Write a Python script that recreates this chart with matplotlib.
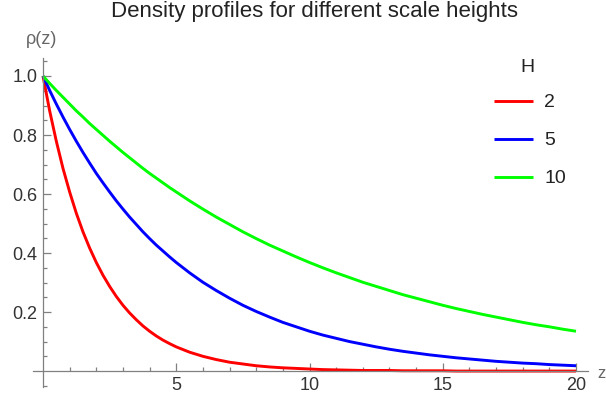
import matplotlib.pyplot as plt
import numpy as np

plt.rcParams['font.family'] = ['Liberation Sans', 'DejaVu Sans']

# sampled density values read off the chart
# z: steps of 0.25 up to 5, then steps of 0.5 up to 20
z = np.concatenate([np.arange(0, 5.25, 0.25), np.arange(5.5, 20.5, 0.5)])
rho_h2 = [1.000, 0.882, 0.779, 0.687, 0.607, 0.535, 0.472, 0.417, 0.368, 0.325,
          0.287, 0.253, 0.223, 0.197, 0.174, 0.153, 0.135, 0.119, 0.105, 0.093,
          0.082,
          0.064, 0.050, 0.039, 0.030, 0.024, 0.018, 0.014, 0.011, 0.009, 0.007,
          0.005, 0.004, 0.003, 0.002, 0.002, 0.002, 0.001, 0.001, 0.001, 0.001,
          0.000, 0.000, 0.000, 0.000, 0.000, 0.000, 0.000, 0.000, 0.000, 0.000]
rho_h5 = [1.000, 0.951, 0.905, 0.861, 0.819, 0.779, 0.741, 0.705, 0.670, 0.638,
          0.607, 0.577, 0.549, 0.522, 0.497, 0.472, 0.449, 0.427, 0.407, 0.387,
          0.368,
          0.333, 0.301, 0.273, 0.247, 0.223, 0.202, 0.183, 0.165, 0.150, 0.135,
          0.122, 0.111, 0.100, 0.091, 0.082, 0.074, 0.067, 0.061, 0.055, 0.050,
          0.045, 0.041, 0.037, 0.033, 0.030, 0.027, 0.025, 0.022, 0.020, 0.018]
rho_h10 = [1.000, 0.975, 0.951, 0.928, 0.905, 0.882, 0.861, 0.839, 0.819, 0.799,
           0.779, 0.760, 0.741, 0.723, 0.705, 0.687, 0.670, 0.654, 0.638, 0.622,
           0.607,
           0.577, 0.549, 0.522, 0.497, 0.472, 0.449, 0.427, 0.407, 0.387, 0.368,
           0.350, 0.333, 0.317, 0.301, 0.287, 0.273, 0.259, 0.247, 0.235, 0.223,
           0.212, 0.202, 0.192, 0.183, 0.174, 0.165, 0.157, 0.150, 0.142, 0.135]
labels = ['2', '5', '10']
colors = ['#ff0000', '#0000ff', '#00ff00']

fig = plt.figure(figsize=(6.06, 3.96), dpi=100)
ax = fig.add_axes([33 / 606, 9 / 396, (588 - 33) / 606, (387 - 58) / 396])

for rho, lab, c in zip([rho_h2, rho_h5, rho_h10], labels, colors):
    ax.plot(z, rho, color=c, lw=2.1, label=lab, solid_capstyle='butt')

ax.set_xlim(-0.375, 20.45)
ax.set_ylim(-0.054, 1.061)

axis_col = '#808080'
for side in ['top', 'right']:
    ax.spines[side].set_visible(False)
ax.spines['left'].set_position(('data', 0))
ax.spines['bottom'].set_position(('data', 0))
for side in ['left', 'bottom']:
    ax.spines[side].set_color(axis_col)
    ax.spines[side].set_linewidth(0.9)

ax.set_xticks([5, 10, 15, 20])
ax.set_xticks([x for x in range(0, 21) if x % 5 != 0], minor=True)
ax.set_yticks([0.2, 0.4, 0.6, 0.8, 1.0])
ax.set_yticklabels(['0.2', '0.4', '0.6', '0.8', '1.0'])
ax.set_yticks([-0.05, 0.05, 0.1, 0.15, 0.25, 0.3, 0.35, 0.45, 0.5, 0.55,
               0.65, 0.7, 0.75, 0.85, 0.9, 0.95, 1.05], minor=True)
ax.tick_params(which='both', direction='in', color=axis_col, width=0.9,
               labelsize=13, labelcolor='#333333')
ax.tick_params(which='major', length=5.5, pad=4)
ax.tick_params(which='minor', length=3)

fig.text(314 / 606, 1 - 1 / 396, 'Density profiles for different scale heights',
         ha='center', va='top', fontsize=16, color='#222222')
fig.text(42 / 606, 1 - 40 / 396, 'ρ(z)', ha='center', va='center',
         fontsize=13, color='#666666')
fig.text(597 / 606, 1 - 373 / 396, 'z', ha='left', va='center',
         fontsize=12, color='#666666')

# legend title drawn separately to match the tighter title gap
fig.text(527 / 606, 1 - 68 / 396, 'H', ha='center', va='center',
         fontsize=14, color='#222222')
leg = ax.legend(frameon=False, fontsize=14,
                loc='upper left', bbox_to_anchor=(486 / 606, 1 - 86 / 396),
                bbox_transform=fig.transFigure, handlelength=2.0,
                handletextpad=0.6, labelspacing=1.05, borderaxespad=0)
for t in leg.get_texts():
    t.set_color('#222222')

fig.savefig('out.png', dpi=100)
